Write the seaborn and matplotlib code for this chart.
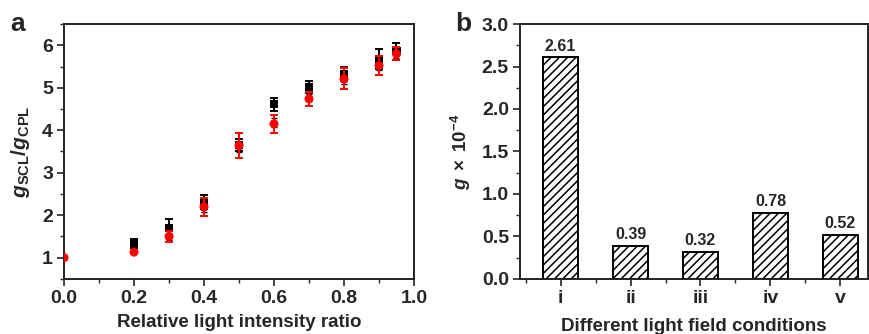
import matplotlib
matplotlib.use('Agg')
import matplotlib.pyplot as plt
import seaborn as sns
import pandas as pd
from matplotlib.ticker import MultipleLocator

# 数据 (a): 相对光强比
sq_x = [0.2, 0.3, 0.4, 0.5, 0.6, 0.7, 0.8, 0.9, 0.95]
sq_y = [1.34, 1.70, 2.31, 3.65, 4.61, 5.02, 5.32, 5.68, 5.86]
sq_err = [0.11, 0.21, 0.16, 0.15, 0.16, 0.14, 0.17, 0.24, 0.20]

tri_x = [0.2, 0.3, 0.4, 0.5, 0.6, 0.7, 0.8, 0.9, 0.95]
tri_y = [1.24, 1.50, 2.18, 3.58, 4.18, 4.78, 5.20, 5.52, 5.80]
tri_err = [0.05, 0.08, 0.10, 0.10, 0.10, 0.08, 0.10, 0.10, 0.10]

red_x = [0.0, 0.2, 0.3, 0.4, 0.5, 0.6, 0.7, 0.8, 0.9, 0.95]
red_y = [1.00, 1.13, 1.50, 2.20, 3.64, 4.15, 4.74, 5.21, 5.52, 5.80]
red_err = [0.0, 0.03, 0.12, 0.21, 0.30, 0.21, 0.16, 0.25, 0.23, 0.15]

# 数据 (b): 不同光场条件
conditions = ['i', 'ii', 'iii', 'iv', 'v']
g_values = [2.61, 0.39, 0.32, 0.78, 0.52]

sns.set_style('ticks')
plt.rcParams['font.family'] = ['Liberation Sans', 'DejaVu Sans']
plt.rcParams['font.weight'] = 'bold'
plt.rcParams['axes.labelweight'] = 'bold'
plt.rcParams['mathtext.fontset'] = 'custom'
plt.rcParams['mathtext.rm'] = 'Liberation Sans'
plt.rcParams['mathtext.it'] = 'Liberation Sans:italic'
plt.rcParams['mathtext.bf'] = 'Liberation Sans:bold'
plt.rcParams['mathtext.bfit'] = 'Liberation Sans:italic:bold'
plt.rcParams['hatch.linewidth'] = 1.1

fig = plt.figure(figsize=(8.69, 3.34), dpi=100)
ax1 = fig.add_axes([0.0737, 0.165, 0.4027, 0.763])
ax2 = fig.add_axes([0.5984, 0.165, 0.4001, 0.763])

# ---------- 图 a ----------
ax1.errorbar(sq_x, sq_y, yerr=sq_err, fmt='none', ecolor='black',
             elinewidth=1.4, capsize=3, capthick=1.4, zorder=2)
sns.scatterplot(x=sq_x, y=sq_y, ax=ax1, marker='s', color='black',
                s=36, edgecolor='none', zorder=3)
ax1.errorbar(tri_x, tri_y, yerr=tri_err, fmt='none', ecolor='black',
             elinewidth=1.0, capsize=2.5, capthick=1.0, zorder=4)
sns.scatterplot(x=tri_x, y=tri_y, ax=ax1, marker='^', color='black',
                s=22, edgecolor='none', zorder=5)
ax1.errorbar(red_x, red_y, yerr=red_err, fmt='none', ecolor='red',
             elinewidth=1.4, capsize=3, capthick=1.4, zorder=6)
sns.scatterplot(x=red_x, y=red_y, ax=ax1, marker='o', color='red',
                s=42, edgecolor='none', zorder=7, clip_on=True)

ax1.set_xlim(0, 1.0)
ax1.set_ylim(0.5, 6.5)
ax1.xaxis.set_minor_locator(MultipleLocator(0.1))
ax1.yaxis.set_major_locator(MultipleLocator(1))
ax1.yaxis.set_minor_locator(MultipleLocator(0.5))
ax1.set_xticks([0, 0.2, 0.4, 0.6, 0.8, 1.0])
ax1.set_xticklabels(['0.0', '0.2', '0.4', '0.6', '0.8', '1.0'])
ax1.set_xlabel('Relative light intensity ratio', fontsize=13.5, labelpad=5)
ax1.set_ylabel(r'$\mathbfit{g}_{\mathbf{SCL}}\mathbf{/}\mathbfit{g}_{\mathbf{CPL}}$',
               fontsize=15, labelpad=7)

# ---------- 图 b ----------
df = pd.DataFrame({'condition': conditions, 'g': g_values})
sns.barplot(data=df, x='condition', y='g', ax=ax2, color='white',
            edgecolor='black', linewidth=1.4, width=0.51, zorder=2)
for p in ax2.patches:
    p.set_hatch('////')
for bar, v in zip(ax2.patches, g_values):
    ax2.text(bar.get_x() + bar.get_width() / 2, v + 0.04, f'{v:.2f}',
             ha='center', va='bottom', fontsize=11.5, fontweight='bold')

ax2.set_xlim(-0.58, 4.39)
ax2.set_ylim(0, 3.0)
ax2.yaxis.set_major_locator(MultipleLocator(0.5))
ax2.yaxis.set_minor_locator(MultipleLocator(0.25))
ax2.xaxis.set_minor_locator(MultipleLocator(1.0, offset=0.5))
ax2.yaxis.set_major_formatter(matplotlib.ticker.FormatStrFormatter('%.1f'))
ax2.set_xlabel('Different light field conditions', fontsize=13.5, labelpad=8)
ax2.set_ylabel(r'$g\;\times\;\mathrm{10^{-4}}$', fontsize=13.5, labelpad=6)

fig.text(0.012, 0.965, 'a', fontsize=19, fontweight='bold', va='top', ha='left')
fig.text(0.524, 0.965, 'b', fontsize=19, fontweight='bold', va='top', ha='left')

for ax in (ax1, ax2):
    for s in ax.spines.values():
        s.set_linewidth(1.4)
        s.set_color('#222222')
    ax.tick_params(which='major', direction='out', length=5, width=1.2,
                   labelsize=14, top=False, right=False, pad=3)
    ax.tick_params(which='minor', direction='out', length=3, width=1.0,
                   top=False, right=False)

fig.savefig('out.png', dpi=100)
